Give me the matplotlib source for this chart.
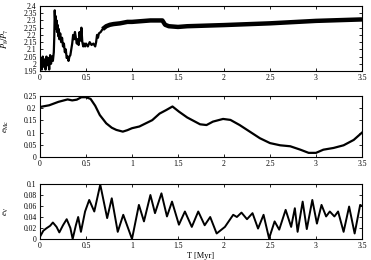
import matplotlib
matplotlib.use("Agg")
import matplotlib.pyplot as plt
import numpy as np
from matplotlib.ticker import MultipleLocator, FuncFormatter

plt.rcParams['font.family'] = ['Liberation Serif', 'DejaVu Serif']
plt.rcParams['mathtext.fontset'] = 'stix'

# Panel 1: period ratio P8/P7
t1 = [0.00, 0.01, 0.02, 0.03, 0.04, 0.05, 0.06, 0.07, 0.08, 0.09, 0.10, 0.11, 0.12, 0.13,
      0.14, 0.15, 0.155, 0.16, 0.165, 0.17, 0.175, 0.18, 0.185, 0.19, 0.20, 0.205, 0.21,
      0.22, 0.23, 0.24, 0.25, 0.26, 0.27, 0.28, 0.29, 0.30, 0.31, 0.32, 0.33, 0.34, 0.35,
      0.36, 0.37, 0.38, 0.39, 0.40, 0.41, 0.42, 0.43, 0.44, 0.45, 0.46, 0.47, 0.48, 0.49,
      0.50, 0.52, 0.54, 0.56, 0.58, 0.60, 0.61, 0.62, 0.63, 0.64, 0.66, 0.68, 0.70, 0.72,
      0.76, 0.80, 0.87, 0.95, 1.00, 1.10, 1.20, 1.30, 1.33, 1.36, 1.40, 1.50, 1.60, 2.00,
      2.50, 3.00, 3.50]
p1 = [1.97, 2.04, 1.96, 2.05, 1.98, 2.03, 1.96, 2.05, 1.99, 2.04, 1.96, 2.06, 2.00, 2.05,
      2.02, 2.08, 2.18, 2.37, 2.30, 2.33, 2.24, 2.30, 2.22, 2.27, 2.19, 2.24, 2.17,
      2.21, 2.15, 2.18, 2.12, 2.14, 2.08, 2.10, 2.04, 2.05, 2.02, 2.05, 2.06, 2.10, 2.14,
      2.20, 2.17, 2.22, 2.18, 2.14, 2.17, 2.13, 2.22, 2.16, 2.25, 2.15, 2.12, 2.14, 2.12,
      2.14, 2.12, 2.15, 2.13, 2.14, 2.12, 2.15, 2.20, 2.18, 2.21, 2.22, 2.24, 2.25, 2.26,
      2.27, 2.275, 2.28, 2.29, 2.29, 2.295, 2.30, 2.30, 2.30, 2.27, 2.26, 2.255, 2.26, 2.268,
      2.28, 2.297, 2.307]

# Panel 2: e_Mc
t2 = [0.00, 0.10, 0.20, 0.30, 0.35, 0.40, 0.45, 0.50, 0.55, 0.60, 0.65, 0.72, 0.78, 0.83,
      0.90, 0.95, 1.00, 1.08, 1.15, 1.22, 1.30, 1.37, 1.44, 1.51, 1.60, 1.67, 1.74, 1.81,
      1.88, 1.99, 2.07, 2.17, 2.28, 2.39, 2.50, 2.61, 2.72, 2.83, 2.92, 3.00, 3.08, 3.19,
      3.30, 3.41, 3.50]
e2 = [0.205, 0.212, 0.226, 0.236, 0.232, 0.235, 0.245, 0.245, 0.238, 0.210, 0.172, 0.138,
      0.120, 0.111, 0.104, 0.110, 0.118, 0.125, 0.138, 0.151, 0.178, 0.192, 0.207, 0.186,
      0.162, 0.148, 0.134, 0.131, 0.145, 0.156, 0.152, 0.131, 0.104, 0.077, 0.057, 0.048,
      0.044, 0.030, 0.017, 0.017, 0.030, 0.037, 0.048, 0.070, 0.100]

# Panel 3: e_V
t3 = [0.00, 0.036, 0.07, 0.11, 0.14, 0.18, 0.21, 0.25, 0.29, 0.33, 0.355, 0.39, 0.415,
      0.445, 0.49, 0.535, 0.59, 0.655, 0.73, 0.78, 0.845, 0.905, 1.00, 1.075, 1.13, 1.20,
      1.25, 1.32, 1.38, 1.435, 1.51, 1.575, 1.65, 1.72, 1.79, 1.85, 1.92, 2.01, 2.10,
      2.14, 2.19, 2.25, 2.31, 2.37, 2.43, 2.49, 2.55, 2.60, 2.67, 2.73, 2.77, 2.80, 2.855,
      2.90, 2.96, 3.01, 3.06, 3.11, 3.15, 3.20, 3.24, 3.30, 3.36, 3.42, 3.48, 3.50]
e3 = [0.004, 0.015, 0.0195, 0.024, 0.030, 0.022, 0.012, 0.025, 0.036, 0.020, 0.000, 0.025,
      0.040, 0.013, 0.050, 0.071, 0.050, 0.099, 0.038, 0.074, 0.013, 0.044, 0.000, 0.062,
      0.032, 0.080, 0.047, 0.083, 0.041, 0.068, 0.026, 0.050, 0.022, 0.050, 0.025, 0.040,
      0.010, 0.022, 0.044, 0.040, 0.048, 0.036, 0.047, 0.019, 0.044, 0.001, 0.032, 0.017,
      0.053, 0.022, 0.056, 0.013, 0.068, 0.018, 0.071, 0.028, 0.062, 0.041, 0.050, 0.041,
      0.050, 0.013, 0.059, 0.010, 0.062, 0.060]

W, H = 371, 260
fig = plt.figure(figsize=(W / 100, H / 100), dpi=100)

def box(top, bottom, left=40, right=362):
    return [left / W, 1 - bottom / H, (right - left) / W, (bottom - top) / H]

ax1 = fig.add_axes(box(6, 71))
ax2 = fig.add_axes(box(96, 157))
ax3 = fig.add_axes(box(184, 239))

fmt = FuncFormatter(lambda v, p: ('%g' % round(v, 4)))

t1a = np.array(t1)
p1a = np.array(p1)
ax1.plot(t1a, p1a, color='black', lw=1.6, solid_joinstyle='round')
mask = t1a >= 0.68
ax1.plot(t1a[mask], p1a[mask], color='black', lw=3.2, solid_capstyle='butt')
ax1.set_ylim(1.95, 2.4)
ax1.yaxis.set_major_locator(MultipleLocator(0.05))

ax2.plot(t2, e2, color='black', lw=1.6, solid_joinstyle='round')
ax2.set_ylim(0, 0.25)
ax2.yaxis.set_major_locator(MultipleLocator(0.05))

ax3.plot(t3, e3, color='black', lw=1.4, solid_joinstyle='round')
ax3.set_ylim(0, 0.1)
ax3.yaxis.set_major_locator(MultipleLocator(0.02))

for ax in (ax1, ax2, ax3):
    ax.set_xlim(0, 3.5)
    ax.xaxis.set_major_locator(MultipleLocator(0.5))
    ax.xaxis.set_major_formatter(fmt)
    ax.yaxis.set_major_formatter(fmt)
    ax.tick_params(direction='in', top=True, right=True, labelsize=5.5,
                   length=2.5, width=0.6, pad=2.5)
    for s in ax.spines.values():
        s.set_linewidth(0.8)

ax1.set_ylabel(r'$P_8/P_7$', fontsize=6)
ax2.set_ylabel(r'$e_{\rm Mc}$', fontsize=6)
ax3.set_ylabel(r'$e_{\rm V}$', fontsize=6)
for ax in (ax1, ax2, ax3):
    ax.yaxis.set_label_coords(-0.09, 0.5)
ax3.set_xlabel('T [Myr]', fontsize=6, labelpad=1)

fig.savefig('out.png', dpi=100)
